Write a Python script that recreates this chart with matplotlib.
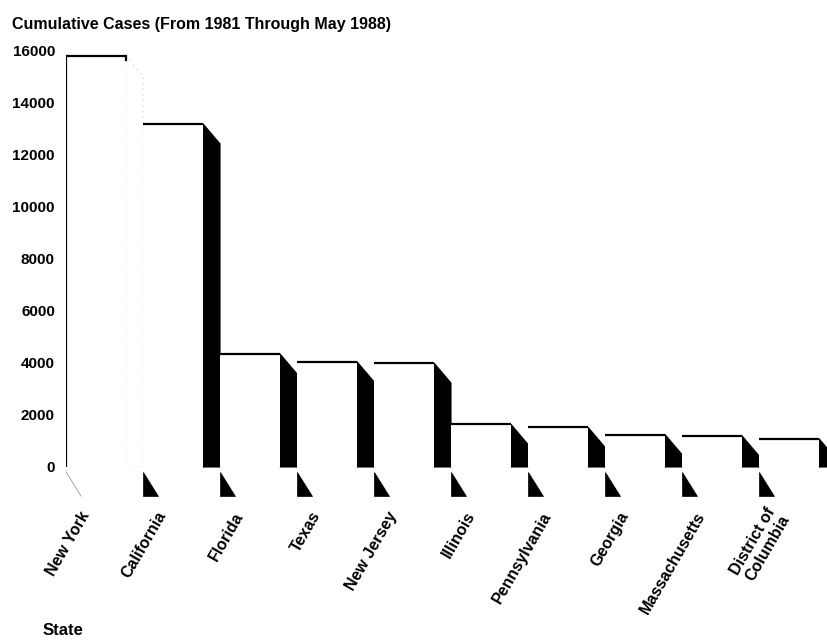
import matplotlib
matplotlib.use("Agg")
import matplotlib.pyplot as plt
from matplotlib.patches import Polygon

plt.rcParams['font.family'] = ['Liberation Sans', 'DejaVu Sans']
plt.rcParams['font.weight'] = 'bold'
plt.rcParams['font.size'] = 11

states = ['New York', 'California', 'Florida', 'Texas', 'New Jersey',
          'Illinois', 'Pennsylvania', 'Georgia', 'Massachusetts',
          'District of\nColumbia']
cases = [15800, 13200, 4350, 4050, 4000, 1640, 1530, 1250, 1200, 1090]
y_ticks = [0, 2000, 4000, 6000, 8000, 10000, 12000, 14000, 16000]

W, H = 828, 640
fig = plt.figure(figsize=(W / 100, H / 100), dpi=100)
# axes placed in pixels: baseline at y=467, 16000 at y=51, first bar at x=66
ax = fig.add_axes([66 / W, (H - 467) / H, (W - 66) / W, 416 / H])

pitch = 77.0                      # pixels per bar slot
px_y = 416 / 16000.0              # pixels per case
front = 60 / pitch                # width of the white front face
side = 1 - front                  # width of the black side face
drop = 20 / px_y                  # slant of the side top
tri_top = -5 / px_y
tri_bot = -29 / px_y
tri_w = 15 / pitch

x = list(range(len(states)))
ax.bar(x, cases, width=front, align='edge', color='white', edgecolor='none', zorder=2)

for i, v in enumerate(cases):
    r = i + front
    # side face and floor shadow
    if i == 0:
        # washed out in the original print
        ax.add_patch(Polygon([(r, v), (r + side, v - drop), (r + side, 0), (r, 0)],
                             closed=True, facecolor='white', edgecolor='#c8c8c8',
                             linestyle=(0, (1, 4)), linewidth=0.8, zorder=1))
        ax.plot([i, i + tri_w], [tri_top, tri_bot], color='#999999', linewidth=0.6,
                clip_on=False)
        ax.plot([i, i], [0, v], color='black', linewidth=1.6, zorder=3)
        ax.plot([r, r], [v, v - 150], color='black', linewidth=1.6, zorder=3)
    else:
        ax.add_patch(Polygon([(r, v), (r + side, v - drop), (r + side, 0), (r, 0)],
                             closed=True, facecolor='black', edgecolor='black',
                             linewidth=0.8, zorder=1, clip_on=False))
        ax.add_patch(Polygon([(i, tri_top), (i, tri_bot), (i + tri_w, tri_bot)],
                             closed=True, facecolor='black', edgecolor='black',
                             linewidth=0.5, clip_on=False))
    # top edge of the front face
    ax.plot([i, r], [v, v], color='black', linewidth=1.6, zorder=3,
            solid_capstyle='butt', clip_on=False)

ax.set_xlim(0, (W - 66) / pitch)
ax.set_ylim(0, 16000)

ax.set_yticks(y_ticks)
ax.set_yticklabels([str(t) for t in y_ticks], fontsize=11, fontweight='bold')
ax.tick_params(axis='y', length=0, pad=8)

ax.set_xticks([i + 20 / pitch for i in x])
ax.set_xticklabels(states, rotation=60, ha='right', va='center',
                   rotation_mode='anchor', fontsize=11.5, fontweight='bold',
                   linespacing=1.1)
ax.tick_params(axis='x', length=0, pad=33)

for s in ax.spines.values():
    s.set_visible(False)

fig.text(12 / W, 1 - 25 / H, 'Cumulative Cases (From 1981 Through May 1988)',
         fontsize=11.5, fontweight='bold', va='center', ha='left')
fig.text(43 / W, 1 - 623 / H, 'State', fontsize=12, fontweight='bold',
         va='top', ha='left')

fig.savefig('out.png', dpi=100)
